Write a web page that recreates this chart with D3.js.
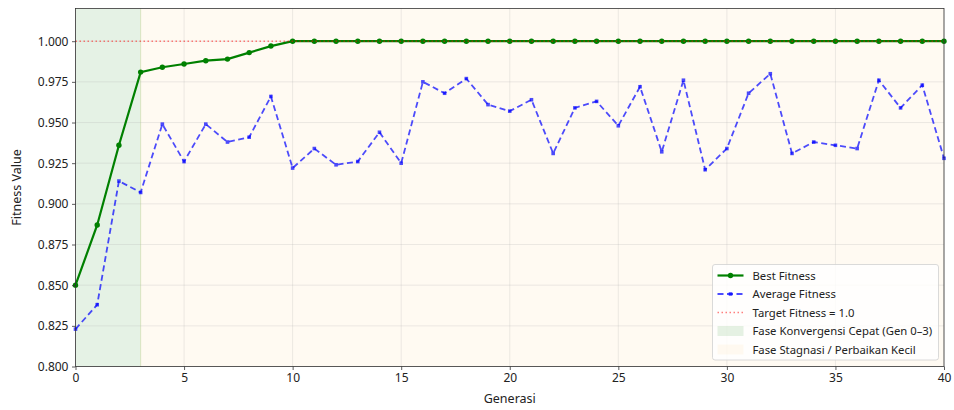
<!DOCTYPE html>
<html><head><meta charset="utf-8">
<script src="https://cdn.jsdelivr.net/npm/d3@7"></script>
<style>
body{margin:0;background:#fff;}
text{font-family:"Noto Sans","Open Sans",sans-serif;}
</style></head>
<body><svg id="c" width="954" height="410"></svg>
<script>
const generations = d3.range(0, 41);
const bestFitness = [0.850,0.887,0.936,0.981,0.984,0.986,0.988,0.989,0.993,0.997,
  1,1,1,1,1,1,1,1,1,1,1,1,1,1,1,1,1,1,1,1,1,1,1,1,1,1,1,1,1,1,1];
const avgFitness = [0.823,0.838,0.914,0.907,0.949,0.926,0.949,0.938,0.941,0.966,
  0.922,0.934,0.924,0.926,0.944,0.925,0.975,0.968,0.977,0.961,0.957,0.964,0.931,0.959,0.963,
  0.948,0.972,0.932,0.976,0.921,0.934,0.968,0.980,0.931,0.938,0.936,0.934,0.976,0.959,0.973,0.928];
const targetFitness = 1.0;
const xTicks = [0,5,10,15,20,25,30,35,40];
const yTicks = [0.800,0.825,0.850,0.875,0.900,0.925,0.950,0.975,1.000];
const phases = [
  {name:"Fase Konvergensi Cepat (Gen 0\u20133)", from:0, to:3, color:"green", op:0.1},
  {name:"Fase Stagnasi / Perbaikan Kecil", from:3, to:40, color:"orange", op:0.05}
];

const svg = d3.select("#c");
const L=75.5, T=8.5, R=944, B=366.5;
const x = d3.scaleLinear().domain([0,40]).range([L,R]);
const y = d3.scaleLinear().domain([0.8,1.0201]).range([B,T]);

// phases
svg.selectAll("rect.ph").data(phases).enter().append("rect")
  .attr("x",d=>x(d.from)).attr("width",d=>x(d.to)-x(d.from))
  .attr("y",T).attr("height",B-T).attr("fill",d=>d.color).attr("fill-opacity",d=>d.op);
svg.append("line").attr("x1",x(3)).attr("x2",x(3)).attr("y1",T).attr("y2",B)
  .attr("stroke","#d8e4c0").attr("stroke-width",1);

// grid
const g = svg.append("g");
g.selectAll("line.gx").data(xTicks).enter().append("line")
  .attr("x1",d=>x(d)).attr("x2",d=>x(d)).attr("y1",T).attr("y2",B)
  .attr("stroke","#b0b0b0").attr("stroke-opacity",0.3).attr("stroke-width",0.8);
g.selectAll("line.gy").data(yTicks).enter().append("line")
  .attr("x1",L).attr("x2",R).attr("y1",d=>y(d)).attr("y2",d=>y(d))
  .attr("stroke","#b0b0b0").attr("stroke-opacity",0.3).attr("stroke-width",0.8);

const line = d3.line().x((d,i)=>x(generations[i])).y(d=>y(d));

// best line
svg.append("path").datum(bestFitness).attr("d",line).attr("fill","none")
  .attr("stroke","green").attr("stroke-width",2.2);
svg.selectAll("circle.bm").data(bestFitness).enter().append("circle")
  .attr("cx",(d,i)=>x(generations[i])).attr("cy",d=>y(d)).attr("r",2.7).attr("fill","green");

// avg line
svg.append("path").datum(avgFitness).attr("d",line).attr("fill","none")
  .attr("stroke","blue").attr("stroke-opacity",0.7).attr("stroke-width",1.8).attr("stroke-dasharray","6,3.5");
svg.selectAll("rect.am").data(avgFitness).enter().append("rect")
  .attr("x",(d,i)=>x(generations[i])-1.8).attr("y",d=>y(d)-1.8).attr("width",3.6).attr("height",3.6)
  .attr("fill","blue").attr("fill-opacity",0.7);

// target line
svg.append("line").attr("x1",L).attr("x2",R).attr("y1",y(targetFitness)).attr("y2",y(targetFitness))
  .attr("stroke","red").attr("stroke-opacity",0.5).attr("stroke-width",1.5).attr("stroke-dasharray","1.5,2.5");

// axes
const xa = svg.append("g").attr("transform",`translate(0,${B})`)
  .call(d3.axisBottom(x).tickValues(xTicks).tickSize(3.5).tickPadding(3.5).tickFormat(d3.format("d")));
const ya = svg.append("g").attr("transform",`translate(${L},0)`)
  .call(d3.axisLeft(y).tickValues(yTicks).tickSize(3.5).tickPadding(3.5).tickFormat(d3.format(".3f")));
[xa,ya].forEach(a=>{a.select(".domain").remove();
  a.selectAll("text").attr("font-size",12).attr("fill","#222").style("font-family","'Noto Sans',sans-serif");
  a.selectAll("line").attr("stroke","#333").attr("stroke-width",0.8);});
svg.append("rect").attr("x",L).attr("y",T).attr("width",R-L).attr("height",B-T)
  .attr("fill","none").attr("stroke","#333").attr("stroke-width",0.8);

svg.append("text").attr("x",(L+R)/2).attr("y",403).attr("text-anchor","middle")
  .attr("font-size",12.5).attr("fill","#222").text("Generasi");
svg.append("text").attr("transform",`translate(21,${(T+B)/2}) rotate(-90)`).attr("text-anchor","middle")
  .attr("font-size",12.5).attr("fill","#222").text("Fitness Value");

// legend
const lg = svg.append("g").attr("transform","translate(712.5,264.5)");
lg.append("rect").attr("width",226).attr("height",95.5).attr("rx",2.5)
  .attr("fill","white").attr("fill-opacity",0.8).attr("stroke","#d0d0d0").attr("stroke-width",0.8);
const items = [
  {label:"Best Fitness", type:"best"},
  {label:"Average Fitness", type:"avg"},
  {label:"Target Fitness = " + targetFitness.toFixed(1), type:"target"},
  {label:phases[0].name, type:"ph0"},
  {label:phases[1].name, type:"ph1"}
];
items.forEach((it,i)=>{
  const cy = 11 + i*18.5;
  const r = lg.append("g").attr("transform",`translate(0,${cy})`);
  if(it.type==="best"){
    r.append("line").attr("x1",5).attr("x2",31).attr("stroke","green").attr("stroke-width",2.2);
    r.append("circle").attr("cx",18).attr("r",2.7).attr("fill","green");
  } else if(it.type==="avg"){
    r.append("line").attr("x1",5).attr("x2",31).attr("stroke","blue").attr("stroke-opacity",0.7)
      .attr("stroke-width",1.8).attr("stroke-dasharray","6,3.5");
    r.append("rect").attr("x",16.2).attr("y",-1.8).attr("width",3.6).attr("height",3.6).attr("fill","blue").attr("fill-opacity",0.7);
  } else if(it.type==="target"){
    r.append("line").attr("x1",5).attr("x2",31).attr("stroke","red").attr("stroke-opacity",0.5)
      .attr("stroke-width",1.5).attr("stroke-dasharray","1.5,2.5");
  } else {
    const p = it.type==="ph0"?phases[0]:phases[1];
    r.append("rect").attr("x",5).attr("y",-5).attr("width",26).attr("height",10)
      .attr("fill",p.color).attr("fill-opacity",p.op);
  }
  r.append("text").attr("x",40).attr("y",4).attr("font-size",11.3).attr("fill","#222").text(it.label);
});
</script></body></html>
